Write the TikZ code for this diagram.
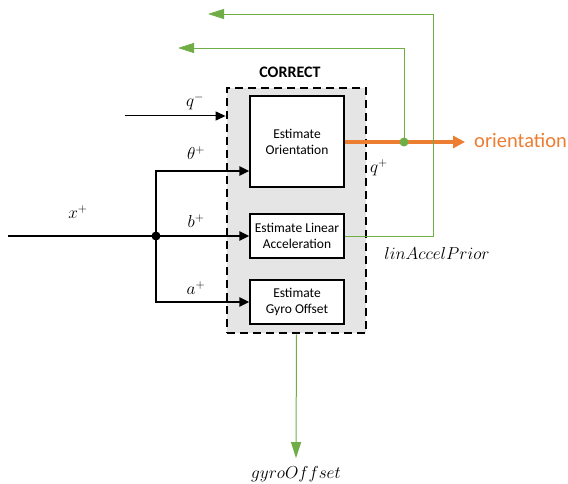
\documentclass[tikz,border=0pt]{standalone}
\usepackage{fontspec}
\setmainfont{Carlito}
\usetikzlibrary{arrows.meta}
\definecolor{fbgreen}{HTML}{70AD47}
\definecolor{outorange}{HTML}{ED7D31}
\begin{document}
\begin{tikzpicture}[
    x=1pt, y=-1pt,
    groupbox/.style={draw=black, fill=black!10, line width=2.8pt,
                     dash pattern=on 8pt off 5pt, minimum width=139pt,
                     minimum height=245pt, inner sep=0pt},
    blockbox/.style={draw=black, fill=white, line width=1.2pt, minimum width=94pt,
                     inner sep=0pt, align=center,
                     font=\fontsize{13.5}{16}\selectfont},
    arr/.style={-{Triangle[length=10pt, width=9pt]}, line width=2.3pt, black},
    fb/.style={-{Triangle[length=16pt, width=10pt]}, line width=0.8pt, fbgreen},
    outarr/.style={-{Triangle[length=12pt, width=12pt]}, line width=3.5pt, outorange},
    lbl/.style={font=\fontsize{17}{19}\selectfont, inner sep=0pt},
]
\useasboundingbox (0,0) rectangle (568,484);

% CORRECT group and its three blocks
\node[groupbox] (correct) at (296.5,210.5) {};
\node[font=\fontsize{16}{18}\selectfont\bfseries] (title) at (290,72) {CORRECT};
\node[blockbox, minimum height=91pt] (orient) at (297,141.5) {Estimate\\Orientation};
\node[blockbox, minimum height=44pt] (linacc) at (297,236) {Estimate Linear\\Acceleration};
\node[blockbox, minimum height=44pt] (gyro) at (297,302) {Estimate\\Gyro Offset};

% inputs
\coordinate (xin) at (8,236);
\coordinate (qin) at (125,116);
\fill (156,236) circle (4.5pt) coordinate (xdot);
\draw[line width=2.3pt] (xin) -- (xdot);
\draw[arr] (xdot) |- ([yshift=-29.5pt]orient.west);
\draw[arr] (xdot) -- (linacc.west);
\draw[arr] (xdot) |- (gyro.west);
\draw[arr, line width=1pt] (qin) -- (qin -| correct.west);

\node[lbl] (xlbl) at (78,212) {$x^+$};
\node[lbl] (qmlbl) at (195,102) {$q^-$};
\node[lbl] (thlbl) at (196,153) {$\theta^+$};
\node[lbl] (blbl) at (196,221) {$b^+$};
\node[lbl] (albl) at (196,288) {$a^+$};

% outputs and feedback
\coordinate (out) at (465,142);
\coordinate (fbq) at (178,48);
\coordinate (fbl) at (208,14);
\coordinate (corner) at (433,14);
\draw[outarr] (orient.east |- out) -- (out);
\node[anchor=west, text=outorange, font=\fontsize{20.5}{22}\selectfont, inner sep=0pt]
  (olbl) at (474,140) {orientation};
\node[lbl] (qplbl) at (379,168) {$q^+$};
\coordinate (qsplit) at (404,142);
\draw[fb] (qsplit) |- (fbq);
\fill[fbgreen] (qsplit) circle (4.5pt);
\draw[fb] (linacc.east) -| (corner) -- (fbl);
\node[lbl, font=\fontsize{16}{18}\selectfont] (llbl) at (437,253) {$linAccelPrior$};

\node[lbl] (glbl) at (296,474) {$gyroOffset$};
\draw[fb, line width=1pt] (correct.south) -- ([yshift=8pt]glbl.north);
\end{tikzpicture}
\end{document}
